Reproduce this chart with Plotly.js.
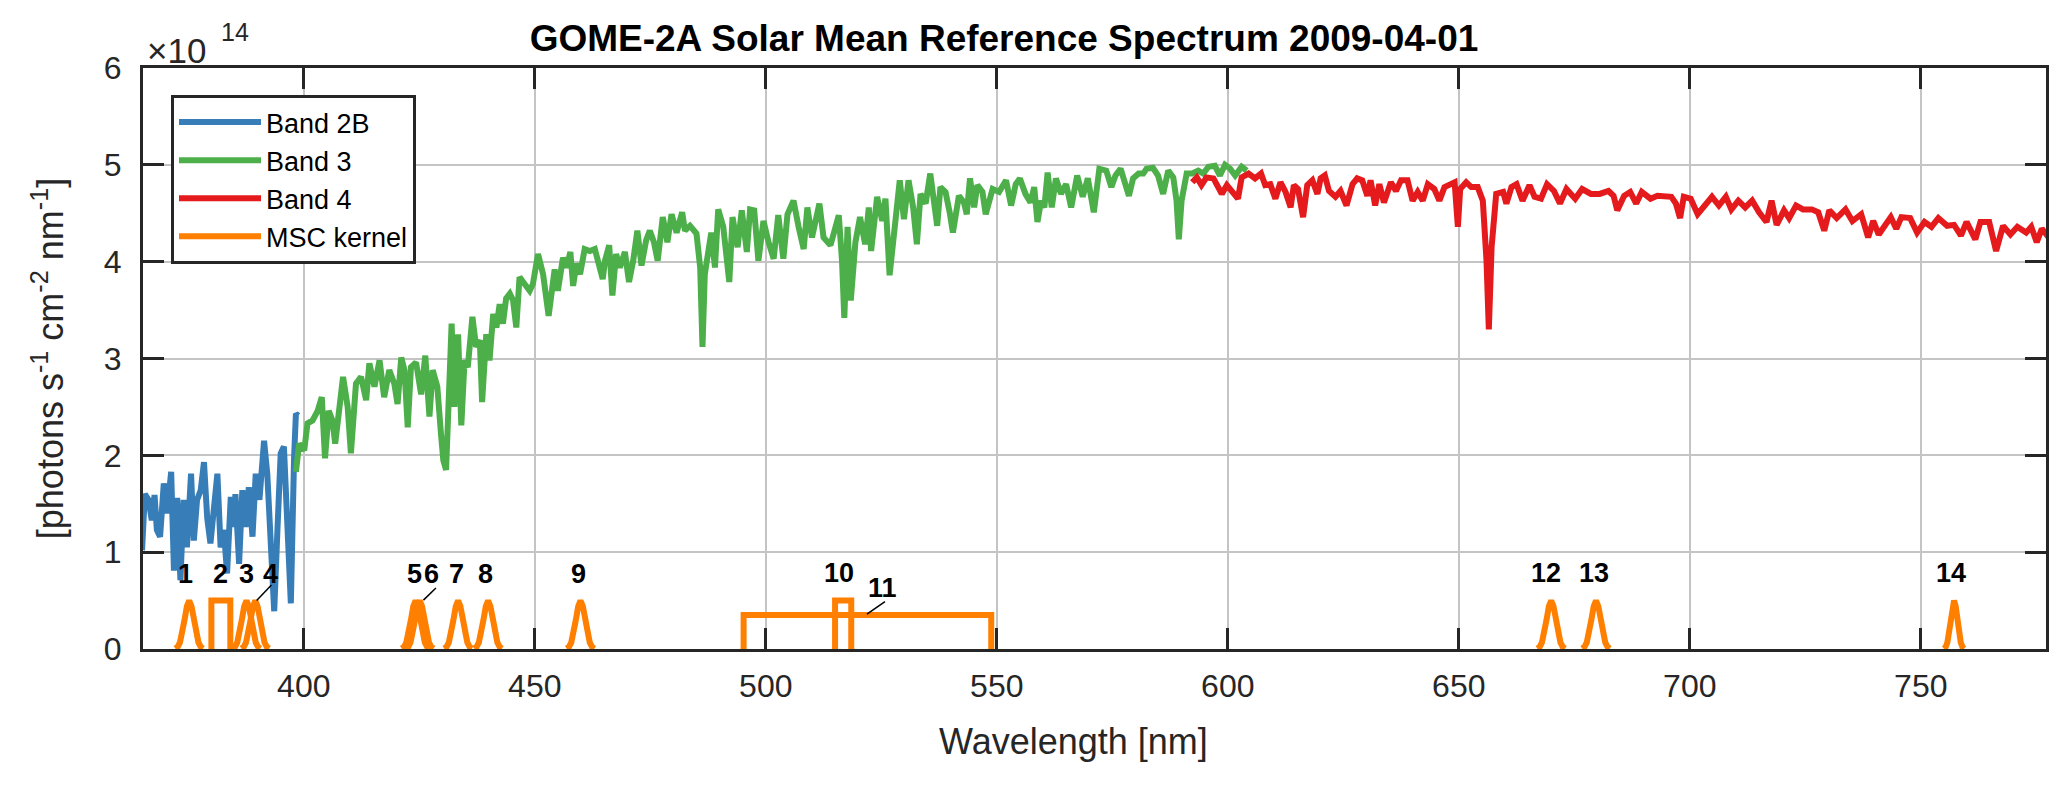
<!DOCTYPE html>
<html>
<head>
<meta charset="utf-8">
<script src="https://cdn.plot.ly/plotly-3.0.1.min.js"></script>
<style>html,body{margin:0;padding:0;background:#fff;}</style>
</head>
<body>
<div id="chart" style="width:2067px;height:785px;"></div>
<script>
// ---- Data (irradiance in units of 1e14 photons s-1 cm-2 nm-1) ----
const band2bWl = [365.0,365.6,366.4,367.1,367.7,368.2,368.9,369.7,370.4,371.3,
  371.9,372.6,373.3,374.0,374.7,375.6,376.2,376.9,377.7,378.4,
  379.1,379.8,380.5,381.3,382.0,382.7,383.4,384.2,384.9,385.2,
  386.0,386.7,387.4,388.1,388.9,389.6,390.4,391.4,392.1,392.8,
  393.6,394.3,395.0,395.7,396.5,397.2,397.9,398.3,398.8];
const band2bVal = [1.02,1.60,1.54,1.33,1.59,1.23,1.16,1.71,1.40,1.83,
  0.81,1.56,0.71,1.54,1.05,1.81,1.12,1.54,1.64,1.93,
  1.35,1.09,1.43,1.81,1.05,1.23,0.78,1.57,1.26,1.60,
  0.88,1.64,1.26,1.67,1.16,1.81,1.54,2.15,1.81,1.23,
  0.39,1.23,2.02,2.09,1.19,0.47,1.98,2.43,2.41];

const band3Wl = [398.3,399.0,400.1,400.8,401.9,403.0,403.9,404.6,405.4,406.2,
  406.8,407.5,408.5,409.5,410.2,411.3,412.4,413.5,414.2,415.3,
  416.4,417.4,418.5,419.6,420.3,421.1,421.8,422.5,423.2,424.3,
  425.4,426.3,427.2,427.9,428.9,429.7,430.2,430.8,431.5,432.0,
  432.6,433.4,434.1,434.8,435.5,436.5,437.3,438.1,438.6,439.5,
  440.2,441.0,441.7,442.4,443.1,443.8,444.6,445.3,446.0,446.7,
  447.8,448.9,449.6,450.7,451.8,453.0,454.3,455.0,456.1,456.9,
  457.7,458.3,459.0,459.8,460.8,461.9,463.0,463.7,464.7,465.2,
  466.1,466.8,467.6,468.4,469.5,470.4,471.3,472.2,473.1,474.1,
  474.9,475.8,476.6,477.7,478.7,479.6,480.7,481.9,482.5,483.6,
  485.0,485.8,486.3,486.8,488.2,489.0,489.7,490.8,492.1,492.8,
  493.9,494.8,495.9,496.6,497.5,498.4,499.5,500.6,501.7,502.7,
  503.8,504.7,506.0,507.1,508.2,509.0,510.0,511.6,512.5,514.0,
  515.8,516.5,517.0,517.7,518.4,519.4,520.4,521.5,522.3,522.8,
  524.1,525.2,525.9,526.8,528.1,529.0,529.9,530.9,531.9,532.7,
  533.5,534.6,535.6,536.4,537.1,537.8,538.9,539.8,540.5,541.8,
  542.9,543.5,544.2,545.1,545.8,546.9,547.6,549.1,550.5,552.0,
  553.1,554.1,555.0,556.2,557.3,558.1,558.8,559.6,560.3,561.0,
  561.9,562.8,563.9,565.0,566.1,567.4,568.6,569.7,571.0,572.2,
  573.7,574.8,575.7,576.8,577.7,578.6,579.5,580.7,581.7,582.4,
  583.8,584.9,586.0,587.1,588.2,588.9,589.4,590.0,591.1,592.3,
  593.6,594.7,595.8,597.2,598.3,599.4,600.5,601.6,603.0,604.1];
const band3Val = [1.83,2.12,2.05,2.33,2.36,2.46,2.60,1.97,2.46,2.36,
  2.12,2.43,2.81,2.50,2.02,2.74,2.81,2.57,2.95,2.71,
  2.98,2.60,2.88,2.74,2.53,3.01,2.88,2.29,2.91,2.96,
  2.63,3.03,2.40,2.88,2.71,2.22,1.95,1.85,2.71,3.36,
  2.50,3.25,2.31,2.98,2.91,3.43,3.12,3.19,2.55,3.25,
  2.98,3.46,3.32,3.56,3.36,3.62,3.67,3.60,3.32,3.84,
  3.77,3.70,3.77,4.08,3.87,3.44,3.92,3.70,4.04,3.94,
  4.10,3.75,3.98,3.87,4.13,4.11,4.13,4.01,3.82,4.01,
  4.17,3.65,4.08,3.94,4.10,3.79,4.01,4.32,3.96,4.22,
  4.32,4.20,4.01,4.46,4.20,4.49,4.30,4.51,4.32,4.37,
  4.29,3.94,3.12,3.87,4.30,3.94,4.54,4.36,3.79,4.46,
  4.15,4.53,4.10,4.54,4.53,4.01,4.42,4.20,4.03,4.48,
  4.03,4.49,4.63,4.36,4.13,4.56,4.25,4.60,4.25,4.17,
  4.48,4.01,3.42,4.36,3.60,4.20,4.46,4.18,4.56,4.11,
  4.67,4.42,4.65,3.86,4.42,4.84,4.44,4.84,4.56,4.18,
  4.70,4.60,4.91,4.63,4.37,4.77,4.72,4.51,4.30,4.68,
  4.61,4.49,4.86,4.56,4.79,4.72,4.49,4.75,4.72,4.84,
  4.58,4.80,4.86,4.70,4.61,4.77,4.41,4.63,4.56,4.92,
  4.56,4.86,4.70,4.80,4.56,4.89,4.67,4.86,4.51,4.96,
  4.94,4.77,4.89,4.96,4.80,4.68,4.86,4.91,4.91,4.96,
  4.97,4.89,4.70,4.94,4.87,4.63,4.23,4.63,4.91,4.91,
  4.94,4.91,4.98,4.99,4.89,5.00,4.96,4.89,4.98,4.94];

const band4Wl = [592.3,593.3,594.3,595.4,596.9,597.6,598.7,599.8,600.9,602.2,
  603.0,604.5,605.9,607.2,608.1,609.2,610.3,611.4,612.5,613.6,
  614.3,615.2,616.3,617.2,618.3,619.4,620.1,621.0,621.9,623.3,
  624.4,625.7,627.0,628.0,629.1,630.2,630.9,631.9,632.8,633.8,
  635.3,636.4,637.5,638.9,640.0,641.1,642.2,643.3,644.7,645.8,
  646.9,648.0,649.1,649.8,650.3,651.6,652.7,654.1,655.2,656.0,
  656.5,657.1,658.1,659.6,660.3,661.4,662.5,663.8,665.3,666.4,
  667.8,669.1,670.6,671.9,673.3,675.2,676.7,678.6,680.5,682.4,
  683.5,684.3,685.8,687.1,688.4,689.6,691.5,693.0,694.5,696.0,
  697.0,697.9,698.7,700.2,701.7,702.9,704.8,706.3,707.8,709.0,
  710.5,712.0,713.5,715.0,716.6,717.7,718.8,720.4,721.5,723.0,
  724.5,726.4,727.8,729.1,730.2,731.8,733.7,735.2,737.1,738.6,
  739.7,740.9,742.4,743.5,744.7,745.8,747.7,749.2,750.8,752.3,
  753.8,755.7,757.2,758.7,759.9,761.8,762.9,764.8,766.3,767.8,
  769.4,770.9,772.8,773.9,775.1,776.2,777.7];
const band4Val = [4.82,4.87,4.79,4.87,4.86,4.80,4.70,4.79,4.73,4.65,
  4.87,4.91,4.86,4.91,4.79,4.80,4.65,4.82,4.72,4.56,
  4.79,4.75,4.46,4.79,4.84,4.70,4.86,4.89,4.73,4.67,
  4.73,4.58,4.80,4.86,4.84,4.68,4.84,4.58,4.80,4.61,
  4.82,4.73,4.84,4.84,4.63,4.72,4.63,4.80,4.75,4.63,
  4.77,4.79,4.82,4.36,4.75,4.82,4.77,4.77,4.63,4.01,
  3.30,4.15,4.70,4.72,4.60,4.77,4.80,4.63,4.79,4.67,
  4.65,4.80,4.73,4.60,4.75,4.65,4.75,4.70,4.70,4.73,
  4.68,4.53,4.68,4.72,4.60,4.72,4.65,4.68,4.67,4.67,
  4.60,4.45,4.67,4.65,4.49,4.56,4.67,4.58,4.67,4.54,
  4.63,4.56,4.63,4.51,4.41,4.63,4.38,4.53,4.45,4.58,
  4.54,4.54,4.51,4.32,4.53,4.45,4.54,4.42,4.49,4.25,
  4.42,4.28,4.38,4.46,4.34,4.46,4.45,4.30,4.41,4.36,
  4.45,4.37,4.38,4.27,4.41,4.23,4.41,4.41,4.11,4.37,
  4.28,4.36,4.30,4.36,4.20,4.34,4.25];

// MSC kernels: peaked kernels (centre wavelengths) and box kernels
const peakCenters = [375.2, 387.6, 389.5, 424.2, 425.1, 433.4, 439.9, 459.9, 670.0, 679.7];
const narrowPeakCenters = [757.2];
const peakOffsets = [-3,-2.5,-2,-1.5,-1,-0.5,0,0.5,1,1.5,2,2.5,3];
const narrowPeakOffsets = [-2.2,-1.8,-1.45,-1.1,-0.72,-0.36,0,0.36,0.72,1.1,1.45,1.8,2.2];
const peakShape = [0.005,0.022,0.068,0.162,0.303,0.441,0.5,0.441,0.303,0.162,0.068,0.022,0.005];
const boxStart = [380.0, 515.0, 495.2];
const boxEnd = [384.1, 518.5, 548.8];
const boxHeight = [0.5, 0.5, 0.35];

// Kernel number labels
const labelText = ['1','2','3','4','5','6','7','8','9','10','11','12','13','14'];
const labelX = [374.5, 382.0, 387.6, 392.9, 424.0, 427.7, 433.0, 439.4, 459.4, 515.9, 525.3, 668.9, 679.2, 756.5];
const labelY = [0.77, 0.77, 0.77, 0.77, 0.77, 0.77, 0.77, 0.77, 0.77, 0.78, 0.63, 0.78, 0.78, 0.78];
const leaderFromX = [393.0, 428.6, 525.8];
const leaderFromY = [0.66, 0.63, 0.49];
const leaderToX = [389.8, 425.9, 521.9];
const leaderToY = [0.50, 0.505, 0.36];

const xTicks = [400, 450, 500, 550, 600, 650, 700, 750];
const yTicks = [0, 1, 2, 3, 4, 5, 6];

// ---- Build kernel trace ----
const kx = [], ky = [];
function addPeak(c, offs) {
  for (let i = 0; i < offs.length; i++) { kx.push(c + offs[i]); ky.push(peakShape[i]); }
  kx.push(null); ky.push(null);
}
peakCenters.forEach(c => addPeak(c, peakOffsets));
narrowPeakCenters.forEach(c => addPeak(c, narrowPeakOffsets));
for (let i = 0; i < boxStart.length; i++) {
  kx.push(boxStart[i], boxStart[i], boxEnd[i], boxEnd[i], null);
  ky.push(0, boxHeight[i], boxHeight[i], 0, null);
}

const FONT = 'Liberation Sans, Arial, Helvetica, sans-serif';
const LW = 6;
const traces = [
  {x: band2bWl, y: band2bVal, name: 'Band 2B', type: 'scatter', mode: 'lines', line: {color: '#377eb8', width: LW}},
  {x: band3Wl, y: band3Val, name: 'Band 3', type: 'scatter', mode: 'lines', line: {color: '#4daf4a', width: LW}},
  {x: band4Wl, y: band4Val, name: 'Band 4', type: 'scatter', mode: 'lines', line: {color: '#e41a1c', width: LW}},
  {x: kx, y: ky, name: 'MSC kernel', type: 'scatter', mode: 'lines', connectgaps: false, line: {color: '#ff7f00', width: LW}}
];

const L = 143, R = 2046, T = 68, B = 649, W = 2067, H = 785;
const px2x = p => (p - L) / (R - L);
const px2y = p => (B - p) / (B - T);

const annotations = labelText.map((t, i) => ({
  x: labelX[i], y: labelY[i], xref: 'x', yref: 'y', text: '<b>' + t + '</b>',
  showarrow: false, xanchor: 'center', yanchor: 'middle',
  font: {family: FONT, size: 27, color: '#000'}
}));
annotations.push({
  x: px2x(145), y: px2y(50), xref: 'paper', yref: 'paper', text: '×10', showarrow: false,
  xanchor: 'left', yanchor: 'middle', font: {family: FONT, size: 35, color: '#262626'}
});
annotations.push({
  x: px2x(219), y: px2y(32), xref: 'paper', yref: 'paper', text: '14', showarrow: false,
  xanchor: 'left', yanchor: 'middle', font: {family: FONT, size: 25, color: '#262626'}
});
annotations.push({
  x: px2x(1073), y: px2y(742), xref: 'paper', yref: 'paper', text: 'Wavelength [nm]', showarrow: false,
  xanchor: 'center', yanchor: 'middle', font: {family: FONT, size: 36, color: '#262626'}
});

const shapes = leaderFromX.map((x0, i) => ({
  type: 'line', xref: 'x', yref: 'y', x0: x0, y0: leaderFromY[i], x1: leaderToX[i], y1: leaderToY[i],
  line: {color: '#000', width: 1.5}
}));

const axisCommon = {
  showline: true, linecolor: '#262626', linewidth: 3, mirror: 'ticks',
  ticks: 'inside', ticklen: 21, tickwidth: 3, tickcolor: '#262626',
  showgrid: true, gridcolor: '#c4c4c4', gridwidth: 2, zeroline: false,
  tickfont: {family: FONT, size: 32, color: '#262626'}
};

const layout = {
  width: W, height: H,
  margin: {l: L, r: W - R, t: T, b: H - B, pad: 0},
  paper_bgcolor: '#fff', plot_bgcolor: '#fff',
  showlegend: true,
  title: {
    text: '<b>GOME-2A Solar Mean Reference Spectrum 2009-04-01</b>',
    font: {family: FONT, size: 37, color: '#000'},
    x: 1004 / W, xref: 'container', xanchor: 'center',
    y: 1 - 38 / H, yref: 'container', yanchor: 'middle'
  },
  xaxis: Object.assign({}, axisCommon, {
    range: [365.2, 777.1], tickvals: xTicks, ticktext: xTicks.map(String),
    ticklabelstandoff: 7
  }),
  yaxis: Object.assign({}, axisCommon, {
    range: [0, 6], tickvals: yTicks, ticktext: yTicks.map(String),
    ticklabelstandoff: 12,
    title: {text: '[photons s<sup>-1</sup> cm<sup>-2</sup> nm<sup>-1</sup>]', font: {family: FONT, size: 36, color: '#262626'}, standoff: 30}
  }),
  legend: {
    x: px2x(171), y: px2y(95), xanchor: 'left', yanchor: 'top',
    bgcolor: '#fff', bordercolor: '#262626', borderwidth: 3,
    font: {family: FONT, size: 27, color: '#000'},
    itemwidth: 82, entrywidth: 160, entrywidthmode: 'pixels', tracegroupgap: 0
  },
  annotations: annotations,
  shapes: shapes
};

Plotly.newPlot('chart', traces, layout, {displayModeBar: false, staticPlot: true});
</script>
</body>
</html>
